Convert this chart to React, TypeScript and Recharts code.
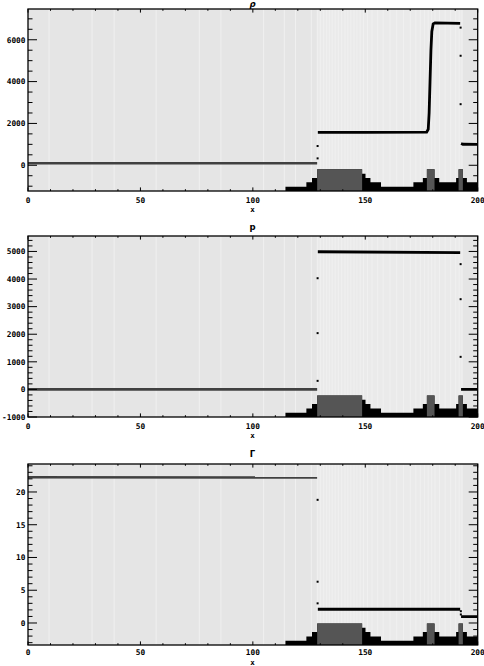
import React from 'react';
import { ComposedChart, Line, Area, Scatter, XAxis, YAxis, CartesianGrid } from 'recharts';

type Pt = [number, number];

// ---- x axis ----
const xTicks = [0, 10, 20, 30, 40, 50, 60, 70, 80, 90, 100, 110, 120, 130, 140, 150, 160, 170, 180, 190, 200];
const xLabels = [0, 50, 100, 150, 200];

// ---- background grid-block boundaries (light stripes) ----
const stripeX = [9.4, 28.5, 38.3, 57, 76.2, 85.8, 104.8, 114, 119, 126, 128.7, 130, 131.5, 132.8, 134, 135.3, 136.6, 138, 139.5, 141, 142.2, 143.6, 145, 146.3, 147.7, 149.2, 151, 153, 155.5, 158, 161, 164, 167, 170, 172.5, 174.5, 176.3, 178, 179.5, 181, 183, 185.5, 188, 190.2, 191.8, 193];
const zoneX = [0, 128.7, 193.3];
const zoneFill = ['#e5e5e5', '#eaeaea', '#e5e5e5'];

// ---- refinement level profile ----
const levelX = [0, 114.5, 123.8, 126.3, 128.6, 148.6, 150.1, 152.3, 157, 171.4, 175.6, 177.4, 180.8, 182.9, 190.4, 191.5, 193.4, 195.2, 200];
const levelV = [0, 1, 2, 3, 5, 4, 3, 2, 1, 2, 3, 5, 3, 2, 3, 5, 3, 2, 2];
const fineX = [0, 128.6, 148.6, 177.4, 180.8, 191.5, 193.4, 200];
const fineV = [0, 5, 0, 5, 0, 5, 0, 0];

// ---- rho ----
const rhoLeft: Pt[] = [[0, 95], [128.6, 95]];
const rhoMid: Pt[] = [[128.9, 1570], [150, 1575], [177.3, 1585], [178, 1720], [178.4, 2500], [178.8, 4000], [179.2, 5500], [179.6, 6400], [180.2, 6760], [181, 6810], [192.2, 6780]];
const rhoRight: Pt[] = [[192.6, 1040], [193.4, 1005], [200, 1000]];
const rhoJump: Pt[] = [[128.8, 330], [128.8, 920], [192.4, 6580], [192.4, 5235], [192.4, 2920]];
const rhoYTicks = [-1000, -500, 0, 500, 1000, 1500, 2000, 2500, 3000, 3500, 4000, 4500, 5000, 5500, 6000, 6500, 7000];
const rhoYLabels = [0, 2000, 4000, 6000];

// ---- p ----
const pLeft: Pt[] = [[0, 0], [128.6, 0]];
const pMid: Pt[] = [[128.9, 4990], [192.2, 4960]];
const pRight: Pt[] = [[192.6, 0], [200, 0]];
const pJump: Pt[] = [[128.8, 310], [128.8, 2040], [128.8, 4030], [192.4, 4540], [192.4, 3270], [192.4, 1180]];
const pYTicks = [-1000, -800, -600, -400, -200, 0, 200, 400, 600, 800, 1000, 1200, 1400, 1600, 1800, 2000, 2200, 2400, 2600, 2800, 3000, 3200, 3400, 3600, 3800, 4000, 4200, 4400, 4600, 4800, 5000, 5200, 5400];
const pYLabels = [-1000, 0, 1000, 2000, 3000, 4000, 5000];

// ---- Gamma ----
const gLeft: Pt[] = [[0, 22.25], [128.6, 22.2]];
const gMid: Pt[] = [[128.9, 2.1], [192.2, 2.1]];
const gRight: Pt[] = [[192.6, 0.96], [200, 0.96]];
const gJump: Pt[] = [[128.8, 18.8], [128.8, 6.3], [128.8, 3.0], [192.5, 1.8], [192.5, 1.3]];
const gYTicks = [-3, -2, -1, 0, 1, 2, 3, 4, 5, 6, 7, 8, 9, 10, 11, 12, 13, 14, 15, 16, 17, 18, 19, 20, 21, 22, 23, 24];
const gYLabels = [0, 5, 10, 15, 20];

const rows = (pts: Pt[]) => pts.map(([x, y]) => ({ x, y }));
const zip = (xs: number[], vs: number[]) => xs.map((x, i) => ({ x, y: vs[i] }));

const PLOT_W = 449.7;
const TICK_FONT = 'DejaVu Sans Mono';

type Cfg = {
  top: number; height: number; bottom: number; plotH: number; labelDy: number;
  domain: [number, number]; yTicks: number[]; yLabels: number[];
  left: Pt[]; mid: Pt[]; right: Pt[]; jump: Pt[];
};

const panels: Cfg[] = [
  { top: 0, height: 221, bottom: 30, plotH: 182, labelDy: 11.5, domain: [-1230, 7470], yTicks: rhoYTicks, yLabels: rhoYLabels, left: rhoLeft, mid: rhoMid, right: rhoRight, jump: rhoJump },
  { top: 227, height: 220, bottom: 30, plotH: 181, labelDy: 11.5, domain: [-1000, 5560], yTicks: pYTicks, yLabels: pYLabels, left: pLeft, mid: pMid, right: pRight, jump: pJump },
  { top: 455, height: 211, bottom: 21, plotH: 181, labelDy: 10.3, domain: [-3.36, 24.27], yTicks: gYTicks, yLabels: gYLabels, left: gLeft, mid: gMid, right: gRight, jump: gJump },
];

const DotShape = (p: any) => <rect x={p.cx - 1} y={p.cy - 1} width={2} height={2} fill="#000" />;

function Panel({ cfg }: { cfg: Cfg }) {
  const { top, height, bottom, plotH, labelDy, domain, yTicks, yLabels, left, mid, right, jump } = cfg;
  const XTick = (props: any) => {
    const { x, y, payload, index } = props;
    const v = payload.value;
    const major = xLabels.includes(v);
    const len = major ? 3.6 : 1.8;
    return (
      <g>
        {index === 0 && (
          <rect x={x} y={y - plotH} width={PLOT_W} height={plotH} fill="none" stroke="#000" strokeWidth={1.3} />
        )}
        <line x1={x} x2={x} y1={y} y2={y - len} stroke="#000" strokeWidth={1} />
        <line x1={x} x2={x} y1={y - plotH} y2={y - plotH + len} stroke="#000" strokeWidth={1} />
        {major && (
          <text x={x} y={y + labelDy} textAnchor="middle" fontSize={7.8} fontWeight="bold" fontFamily={TICK_FONT} fill="#000">{v}</text>
        )}
      </g>
    );
  };
  const YTick = (props: any) => {
    const { x, y, payload } = props;
    const v = payload.value;
    const major = yLabels.includes(v);
    const len = major ? 9 : 4.5;
    return (
      <g>
        <line x1={x} x2={x + len} y1={y} y2={y} stroke="#000" strokeWidth={1} />
        <line x1={x + PLOT_W} x2={x + PLOT_W - len} y1={y} y2={y} stroke="#000" strokeWidth={1} />
        {major && (
          <text x={x - 2.5} y={y + 2.8} textAnchor="end" fontSize={7.8} fontWeight="bold" fontFamily={TICK_FONT} fill="#000">{v}</text>
        )}
      </g>
    );
  };
  return (
    <div style={{ position: 'absolute', left: 0, top }}>
      <ComposedChart width={484} height={height} margin={{ top: 9, right: 6.3, bottom: bottom - 1, left: 27 }}>
        <CartesianGrid horizontal={false} verticalValues={zoneX} verticalFill={zoneFill} stroke="none" fill="#e5e5e5" />
        <CartesianGrid horizontal={false} verticalValues={stripeX} stroke="#f0f0f0" strokeWidth={1} />
        <YAxis yAxisId="lvl" type="number" dataKey="y" domain={[0, 42]} allowDataOverflow hide />
        <Area yAxisId="lvl" data={zip(levelX, levelV)} dataKey="y" type="stepAfter" stroke="none" fill="#000" fillOpacity={1} isAnimationActive={false} />
        <Area yAxisId="lvl" data={zip(fineX, fineV)} dataKey="y" type="stepAfter" stroke="none" fill="#555" fillOpacity={1} isAnimationActive={false} />
        <Line data={rows(left)} dataKey="y" type="linear" stroke="#404040" strokeWidth={2.6} dot={false} isAnimationActive={false} />
        <Line data={rows(mid)} dataKey="y" type="linear" stroke="#000" strokeWidth={2.8} dot={false} isAnimationActive={false} />
        <Line data={rows(right)} dataKey="y" type="linear" stroke="#000" strokeWidth={2.8} dot={false} isAnimationActive={false} />
        <Scatter data={rows(jump)} shape={DotShape} isAnimationActive={false} />
        <XAxis type="number" dataKey="x" domain={[0, 200]} allowDataOverflow ticks={xTicks} interval={0}
          tick={XTick} tickLine={false} axisLine={false} tickSize={0} tickMargin={0} height={1} />
        <YAxis type="number" dataKey="y" domain={domain} allowDataOverflow ticks={yTicks} interval={0}
          tick={YTick} tickLine={false} axisLine={false} tickSize={0} tickMargin={0} width={1} />
      </ComposedChart>
    </div>
  );
}

const titles = [
  { text: 'ρ', y: 7, italic: true },
  { text: 'p', y: 230, italic: false },
  { text: 'Γ', y: 457, italic: false },
];
const xAxisLabelY = [212, 437.5, 664.5];

export default function App() {
  return (
    <div style={{ position: 'absolute', left: 0, top: 0, width: 484, height: 666, background: '#fff', overflow: 'hidden' }}>
      <style>{'body{margin:0;overflow:hidden}'}</style>
      {panels.map((c, i) => <Panel key={i} cfg={c} />)}
      <svg width={484} height={666} style={{ position: 'absolute', left: 0, top: 0, pointerEvents: 'none' }}>
        {titles.map((t, i) => (
          <text key={'t' + i} x={252.5} y={t.y} textAnchor="middle" fontSize={8.5} fontWeight="bold"
            fontStyle={t.italic ? 'italic' : 'normal'} fontFamily="DejaVu Sans" fill="#000">{t.text}</text>
        ))}
        {xAxisLabelY.map((y, i) => (
          <text key={'x' + i} x={252.5} y={y} textAnchor="middle" fontSize={7.5} fontWeight="bold" fontFamily={TICK_FONT} fill="#000">x</text>
        ))}
      </svg>
    </div>
  );
}
